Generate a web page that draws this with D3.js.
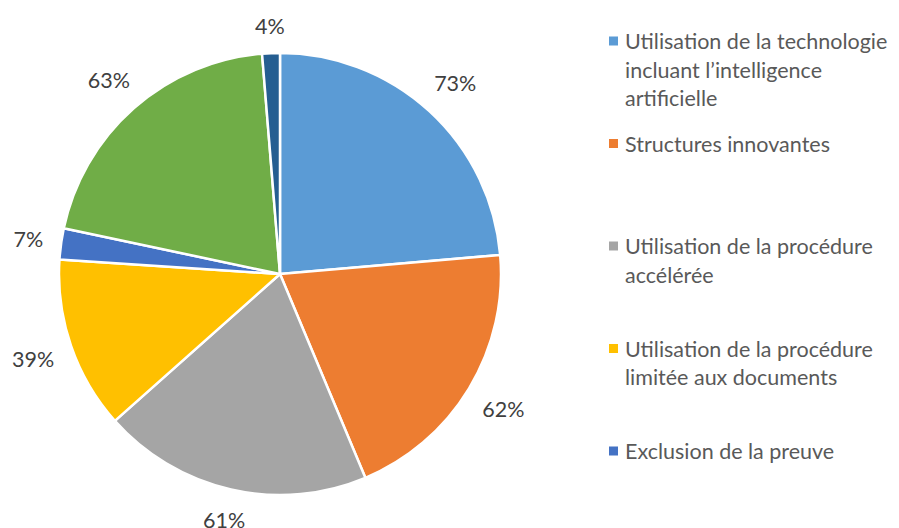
<!DOCTYPE html>
<html><head><meta charset="utf-8">
<script src="https://cdn.jsdelivr.net/npm/d3@7"></script>
<style>body{margin:0;background:#fff}svg{display:block}text{font-family:Lato,"Open Sans",sans-serif}</style>
</head><body>
<svg id="c" width="899" height="528"></svg>
<script>
const categories = [
  "Utilisation de la technologie incluant l’intelligence artificielle",
  "Structures innovantes",
  "Utilisation de la procédure accélérée",
  "Utilisation de la procédure limitée aux documents",
  "Exclusion de la preuve",
  "Autre",
  "Autre (2)"
];
const legendLines = [
  ["Utilisation de la technologie", "incluant l’intelligence", "artificielle"],
  ["Structures innovantes"],
  ["Utilisation de la procédure", "accélérée"],
  ["Utilisation de la procédure", "limitée aux documents"],
  ["Exclusion de la preuve"]
];
const values = [73, 62, 61, 39, 7, 63, 4];
const labels = ["73%", "62%", "61%", "39%", "7%", "63%", "4%"];
const colors = ["#5B9BD5", "#ED7D31", "#A5A5A5", "#FFC000", "#4472C4", "#70AD47", "#255E91"];

const svg = d3.select("#c");
const cx = 280, cy = 274, R = 221;
const data = values.map((v, i) => ({cat: categories[i], v, label: labels[i], color: colors[i]}));
const pie = d3.pie().value(d => d.v).sort(null);
const arcs = pie(data);
const arc = d3.arc().innerRadius(0).outerRadius(R);
const g = svg.append("g").attr("transform", `translate(${cx},${cy})`);
g.selectAll("path").data(arcs).join("path")
  .attr("d", arc).attr("fill", d => d.data.color)
  .attr("stroke", "#fff").attr("stroke-width", 2.5).attr("stroke-linejoin", "round");

const fs = 21.5;
const lbl = g.selectAll("text.lbl").data(arcs).join("text").attr("class", "lbl")
  .attr("font-size", fs).attr("fill", "#404040")
  .attr("text-anchor", "middle").attr("dominant-baseline", "central")
  .text(d => d.data.label);
lbl.each(function(d) {
  const w = this.getComputedTextLength(), h = 19;
  const a = (d.startAngle + d.endAngle) / 2;
  const s = Math.sin(a), c = Math.cos(a);
  const r = R + 17 + Math.abs(s) * w / 2 + Math.abs(c) * h / 2;
  d3.select(this).attr("x", r * s).attr("y", -r * c);
});

const leg = svg.append("g").attr("transform", "translate(609,0)");
const step = 102.5, y0 = 41, lh = 28.5;
legendLines.forEach((lines, i) => {
  const y = y0 + i * step;
  leg.append("rect").attr("x", 0).attr("y", y - 4.5).attr("width", 9).attr("height", 9).attr("fill", colors[i]);
  lines.forEach((t, j) => {
    leg.append("text").attr("x", 16).attr("y", y + j * lh)
      .attr("dominant-baseline", "central").attr("font-size", fs).attr("fill", "#595959").text(t);
  });
});
</script>
</body></html>
